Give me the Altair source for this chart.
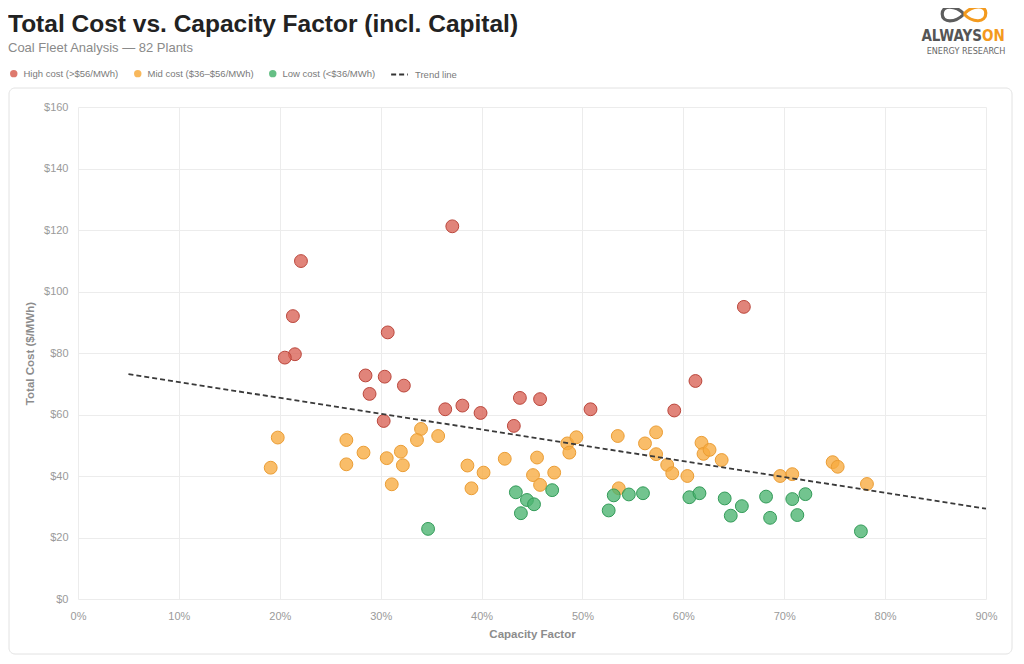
import altair as alt
import pandas as pd

# ---- data ----
high_cf = [22.1, 21.3, 21.5, 20.5, 37.1, 66.0, 30.7, 28.5, 30.4, 28.9, 32.3, 30.3,
           36.4, 38.1, 39.9, 43.8, 45.8, 43.2, 50.8, 59.1, 61.2]
high_cost = [109.9, 92.0, 79.6, 78.5, 121.2, 95.0, 86.7, 72.7, 72.3, 66.7, 69.4, 57.9,
             61.7, 62.9, 60.5, 65.4, 65.0, 56.3, 61.7, 61.3, 70.9]

mid_cf = [19.1, 19.8, 26.6, 26.6, 28.3, 30.6, 31.1, 32.0, 32.2, 34.0, 33.6, 35.7,
          38.6, 39.0, 40.2, 42.3, 45.5, 45.1, 45.8, 47.2, 48.5, 49.4, 48.7, 53.5,
          53.6, 56.2, 57.3, 57.3, 58.4, 58.9, 60.4, 61.8, 62.0, 62.6, 63.8, 69.6,
          70.8, 74.8, 75.3, 78.2]
mid_cost = [42.7, 52.5, 51.7, 43.8, 47.6, 45.8, 37.3, 47.9, 43.5, 55.3, 51.7, 53.0,
            43.4, 36.0, 41.1, 45.6, 46.0, 40.3, 37.1, 41.1, 50.6, 52.6, 47.6, 53.0,
            36.0, 50.6, 54.2, 47.1, 43.6, 40.9, 40.0, 50.8, 47.2, 48.5, 45.2, 40.0,
            40.6, 44.5, 43.0, 37.4]

low_cf = [34.7, 43.4, 43.9, 44.5, 45.2, 47.0, 52.6, 53.1, 54.6, 56.0, 60.6, 61.6,
          64.1, 64.7, 65.8, 68.2, 68.6, 70.8, 71.3, 72.1, 77.6]
low_cost = [22.8, 34.7, 27.9, 32.2, 30.8, 35.4, 28.8, 33.7, 34.0, 34.4, 33.1, 34.4,
            32.7, 27.1, 30.2, 33.3, 26.4, 32.5, 27.3, 34.1, 22.0]

tiers = ["High cost (>$56/MWh)", "Mid cost ($36–$56/MWh)", "Low cost (<$36/MWh)"]
fill_colors = ["#d86254", "#f7ab3f", "#4ab470"]
stroke_colors = ["#bb473c", "#eb9d34", "#329b58"]

x_ticks = [0, 10, 20, 30, 40, 50, 60, 70, 80, 90]
y_ticks = [0, 20, 40, 60, 80, 100, 120, 140, 160]

title_text = "Total Cost vs. Capacity Factor (incl. Capital)"
subtitle_text = "Coal Fleet Analysis — 82 Plants"
trend_label = "Trend line"

rows = []
for cfs, costs, tier in [(high_cf, high_cost, tiers[0]), (mid_cf, mid_cost, tiers[1]),
                         (low_cf, low_cost, tiers[2])]:
    for a, b in zip(cfs, costs):
        rows.append({"cf": a, "cost": b, "tier": tier})
df = pd.DataFrame(rows)

FONT = "Liberation Sans"

base = alt.Chart(df)

x_enc = alt.X("cf:Q", scale=alt.Scale(domain=[0, 90], nice=False),
              axis=alt.Axis(values=x_ticks, labelExpr="datum.value + '%'",
                            labelFlush=False,
                            title="Capacity Factor", labelPadding=11, titlePadding=7))
y_enc = alt.Y("cost:Q", scale=alt.Scale(domain=[0, 160], nice=False),
              axis=alt.Axis(values=y_ticks, labelExpr="'$' + datum.value",
                            labelFlush=False,
                            title="Total Cost ($/MWh)", labelPadding=10, titlePadding=8))

points = base.mark_circle(size=165, fillOpacity=0.78, strokeWidth=1, opacity=1).encode(
    x=x_enc,
    y=y_enc,
    fill=alt.Fill("tier:N", scale=alt.Scale(domain=tiers, range=fill_colors),
                  legend=alt.Legend(orient="none", legendX=-69, legendY=-38.5,
                                    direction="horizontal", title=None,
                                    symbolType="circle", symbolSize=55,
                                    symbolStrokeWidth=0, symbolOpacity=0.85,
                                    labelFontSize=9.5, labelColor="#7a7a7a",
                                    labelFont=FONT, labelOffset=5,
                                    columnPadding=14, padding=0)),
    stroke=alt.Stroke("tier:N", scale=alt.Scale(domain=tiers, range=stroke_colors),
                      legend=None),
)

# exponential trend: least-squares line through log(cost), mapped back
trend = base.transform_calculate(
    lc="log(datum.cost)"
).transform_regression(
    "cf", "lc", method="linear", extent=[5, 90]
).transform_calculate(
    cost="exp(datum.lc)", series=f"'{trend_label}'"
).mark_line(strokeWidth=1.8, color="#3a3a3a").encode(
    x="cf:Q",
    y="cost:Q",
    strokeDash=alt.StrokeDash(
        "series:N",
        scale=alt.Scale(domain=[trend_label], range=[[5, 3]]),
        legend=alt.Legend(orient="none", legendX=312, legendY=-42, title=None,
                          symbolSize=280, symbolStrokeWidth=2,
                          symbolStrokeColor="#333", symbolDash=[3, 1.5],
                          labelFontSize=9.5, labelColor="#7a7a7a", labelFont=FONT,
                          labelOffset=6, padding=0)),
)

one = alt.Data(values=[{"k": 1}])

card = alt.Chart(one).mark_rect(
    fill="white", fillOpacity=0, stroke="#e2e2e2", strokeWidth=1, cornerRadius=6
).encode(x=alt.value(-69), x2=alt.value(934), y=alt.value(-19), y2=alt.value(547))

title = alt.Chart(one).mark_text(
    text=title_text, font=FONT, fontSize=24.5, fontWeight="bold", color="#222222",
    align="left", baseline="alphabetic"
).encode(x=alt.value(-70), y=alt.value(-75))

subtitle = alt.Chart(one).mark_text(
    text=subtitle_text, font=FONT, fontSize=13, color="#8a8a8a",
    align="left", baseline="alphabetic"
).encode(x=alt.value(-70), y=alt.value(-55))

# logo swoosh: two loops of an infinity sign (grey left, orange right)
loop_left = "M0,0 C-0.4,-0.42 -1,-0.42 -1,0 C-1,0.42 -0.4,0.42 0,0"
loop_right = "M0,0 C0.4,0.42 1,0.42 1,-0.05 C1,-0.42 0.4,-0.42 0,0"
swoosh_left = alt.Chart(one).mark_point(
    shape=loop_left, size=1900, filled=False, stroke="#5d5d5d", strokeWidth=3.2,
    opacity=1
).encode(x=alt.value(886), y=alt.value(-93))
swoosh_right = alt.Chart(one).mark_point(
    shape=loop_right, size=1900, filled=False, stroke="#f39a1e", strokeWidth=3.2,
    opacity=1
).encode(x=alt.value(886), y=alt.value(-93))

NARROW = "Liberation Sans Narrow, DejaVu Sans Condensed, Liberation Sans"
logo_always = alt.Chart(one).mark_text(
    text="ALWAYS", font=NARROW, fontSize=15, fontWeight="bold", color="#555555",
    align="right", baseline="alphabetic"
).encode(x=alt.value(904), y=alt.value(-66))

logo_on = alt.Chart(one).mark_text(
    text="ON", font=NARROW, fontSize=15, fontWeight="bold", color="#f39a1e",
    align="left", baseline="alphabetic"
).encode(x=alt.value(904), y=alt.value(-66))

logo_sub = alt.Chart(one).mark_text(
    text="ENERGY RESEARCH", font=NARROW, fontSize=9, color="#666666",
    align="center", baseline="alphabetic"
).encode(x=alt.value(888), y=alt.value(-53))

chart = alt.layer(
    card, points, trend, title, subtitle, swoosh_left, swoosh_right,
    logo_always, logo_on, logo_sub
).properties(
    width=908, height=492,
    padding={"left": 70, "top": 99, "right": 30, "bottom": 58},
    autosize=alt.AutoSizeParams(type="none"),
).configure_view(
    stroke=None
).configure_axis(
    grid=True, gridColor="#ececec", gridWidth=1, domain=False, ticks=False,
    labelFont=FONT, labelFontSize=11, labelColor="#9a9a9a",
    titleFont=FONT, titleFontSize=11.5, titleFontWeight="bold", titleColor="#8c8c8c",
)

chart.save("out.html", embed_options={"renderer": "svg", "actions": False})
